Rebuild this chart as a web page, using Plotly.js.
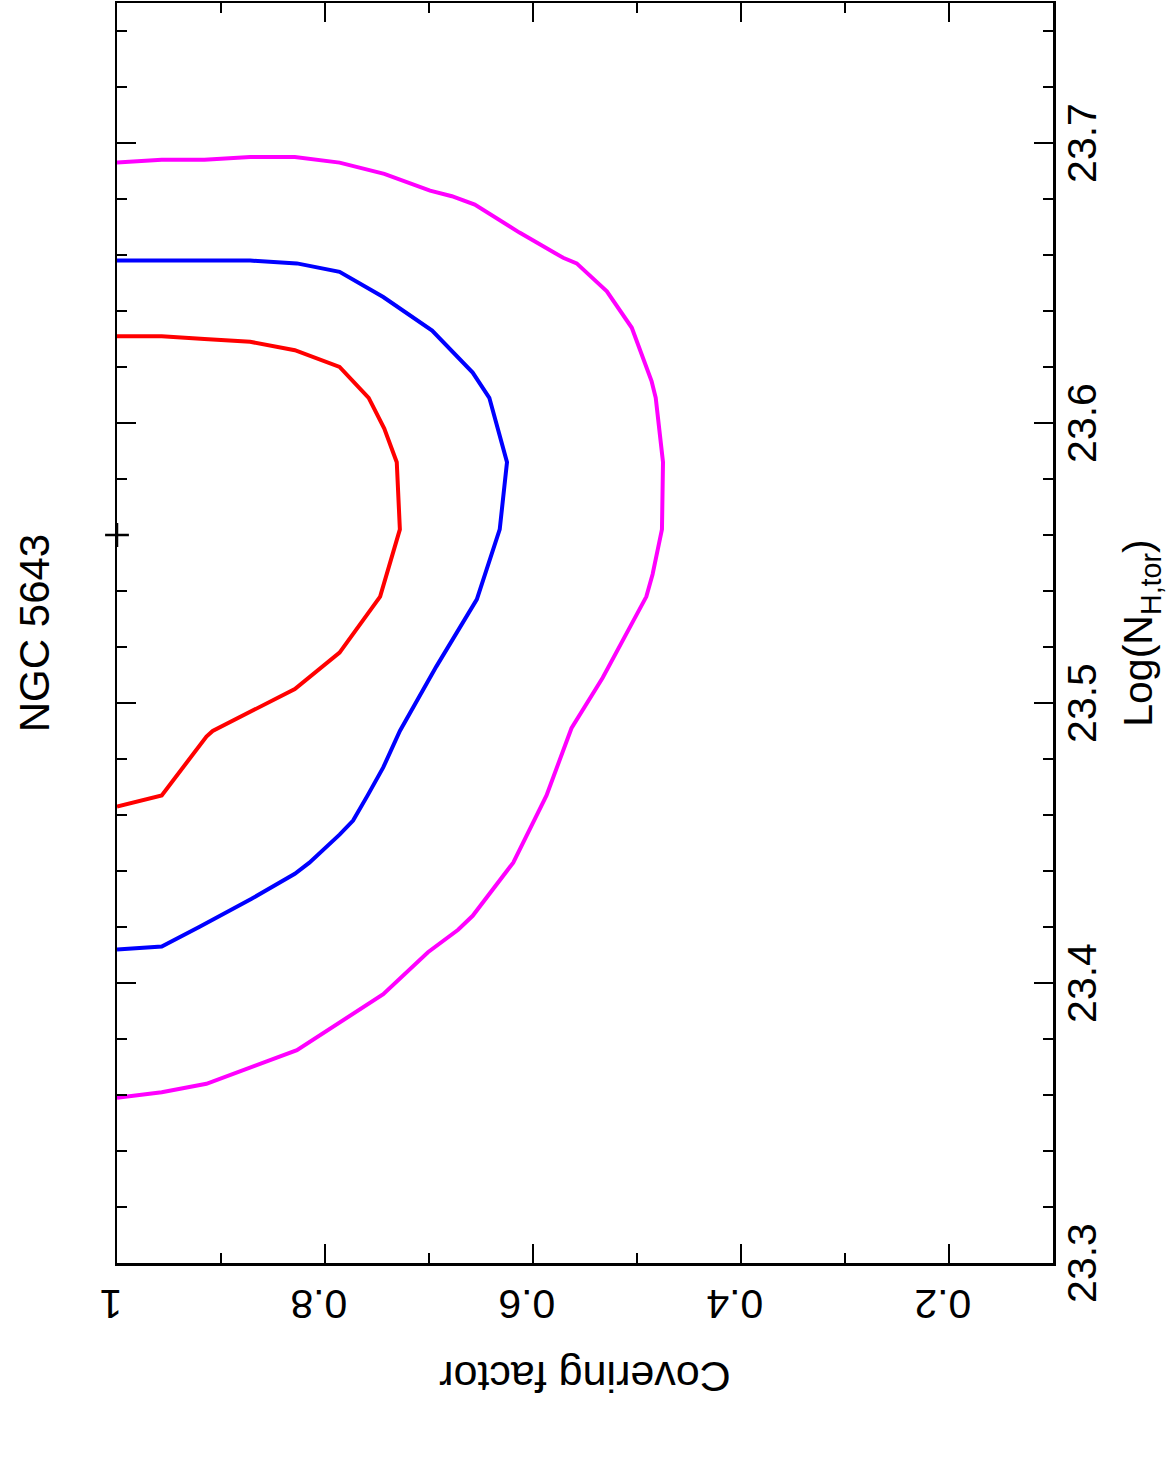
<!DOCTYPE html>
<html>
<head>
<meta charset="utf-8">
<script src="https://cdn.plot.ly/plotly-3.0.1.min.js"></script>
<style>
  html, body { margin: 0; padding: 0; background: #ffffff; }
  #sheet { position: absolute; left: 0; top: 0; width: 1167px; height: 1459px; overflow: hidden; background: #ffffff; }
  /* The figure is laid out landscape and turned a quarter turn anticlockwise onto the portrait page */
  #chart { position: absolute; left: 0; top: 0; width: 1459px; height: 1167px;
           transform-origin: 0 0; transform: translate(0px, 1459px) rotate(-90deg); }
</style>
</head>
<body>
<div id="sheet"><div id="chart"></div></div>
<script>
// Confidence contours of torus column density vs covering factor, NGC 5643
const nhRed = [23.631, 23.631, 23.630, 23.629, 23.626, 23.620, 23.609, 23.598, 23.586, 23.562,
               23.538, 23.518, 23.505, 23.497, 23.490, 23.488, 23.467, 23.463];
const cfRed = [1.000, 0.957, 0.916, 0.872, 0.829, 0.786, 0.758, 0.743, 0.731, 0.728,
               0.747, 0.786, 0.829, 0.872, 0.908, 0.914, 0.957, 1.000];

const nhBlue = [23.658, 23.658, 23.658, 23.658, 23.657, 23.654, 23.645, 23.633, 23.618, 23.609,
                23.586, 23.562, 23.537, 23.513, 23.490, 23.477, 23.467, 23.458, 23.453, 23.443,
                23.439, 23.430, 23.420, 23.413, 23.412];
const cfBlue = [1.000, 0.957, 0.916, 0.872, 0.827, 0.786, 0.744, 0.697, 0.658, 0.642,
                0.625, 0.632, 0.654, 0.693, 0.728, 0.744, 0.759, 0.773, 0.786, 0.815,
                0.829, 0.871, 0.921, 0.957, 1.000];

const nhMagenta = [23.693, 23.694, 23.694, 23.695, 23.695, 23.693, 23.689, 23.683, 23.681, 23.678,
                   23.668, 23.659, 23.657, 23.647, 23.634, 23.615, 23.609, 23.586, 23.562, 23.546,
                   23.538, 23.509, 23.491, 23.467, 23.443, 23.424, 23.419, 23.411, 23.396, 23.386,
                   23.376, 23.372, 23.364, 23.361, 23.359];
const cfMagenta = [1.000, 0.957, 0.916, 0.872, 0.829, 0.786, 0.743, 0.699, 0.678, 0.656,
                   0.613, 0.571, 0.558, 0.529, 0.505, 0.486, 0.482, 0.475, 0.476, 0.485,
                   0.491, 0.533, 0.563, 0.587, 0.619, 0.658, 0.672, 0.701, 0.744, 0.786,
                   0.827, 0.856, 0.914, 0.957, 1.000];

// Best-fit point
const nhBest = [23.560];
const cfBest = [1.000];

const nhRange = [23.3, 23.75];
const cfRange = [0.1, 1.0];

const FONT = 'Liberation Sans, Arial, Helvetica, sans-serif';

function contour(nh, cf, color) {
  return {
    type: 'scatter', mode: 'lines', x: nh, y: cf,
    line: { color: color, width: 4 },
    hoverinfo: 'skip', cliponaxis: true
  };
}

const traces = [
  contour(nhMagenta, cfMagenta, '#ff00ff'),
  contour(nhBlue, cfBlue, '#0000ff'),
  contour(nhRed, cfRed, '#ff0000'),
  {
    type: 'scatter', mode: 'markers', x: nhBest, y: cfBest,
    marker: { symbol: 'cross-thin', size: 17, color: '#000000',
              line: { color: '#000000', width: 2.5 } },
    cliponaxis: false, hoverinfo: 'skip'
  }
];

const axisCommon = {
  showgrid: false, zeroline: false,
  showline: true, linecolor: '#000000', linewidth: 2.5,
  mirror: 'ticks', ticks: 'inside', ticklen: 19, tickwidth: 2.5, tickcolor: '#000000',
  tickfont: { family: FONT, size: 41, color: '#000000' },
  automargin: false
};

const layout = {
  width: 1459, height: 1167,
  margin: { l: 196, r: 3, t: 117, b: 114, pad: 0 },
  paper_bgcolor: '#ffffff', plot_bgcolor: '#ffffff',
  showlegend: false,
  font: { family: FONT, color: '#000000' },
  title: {
    text: 'NGC 5643',
    font: { family: FONT, size: 42, color: '#000000' },
    x: 0.5, xref: 'paper', xanchor: 'center',
    y: 1 - 34 / 1167, yref: 'container', yanchor: 'middle'
  },
  xaxis: Object.assign({}, axisCommon, {
    range: nhRange, tick0: 23.3, dtick: 0.1, tickformat: '.1f',
    ticklabelstandoff: -9,
    minor: { dtick: 0.02, tick0: 23.3, ticks: 'inside', ticklen: 10, tickwidth: 2.5,
             tickcolor: '#000000', showgrid: false },
    title: { text: 'Log(N<sub>H,tor</sub>)', font: { family: FONT, size: 41, color: '#000000' }, standoff: 20 }
  }),
  yaxis: Object.assign({}, axisCommon, {
    range: cfRange, tick0: 0.2, dtick: 0.2, tickangle: -90,
    ticklabelstandoff: 8,
    minor: { dtick: 0.1, tick0: 0.1, ticks: 'inside', ticklen: 10, tickwidth: 2.5,
             tickcolor: '#000000', showgrid: false },
    title: { text: 'Covering factor', font: { family: FONT, size: 43, color: '#000000' }, standoff: 21 }
  })
};

Plotly.newPlot('chart', traces, layout, { staticPlot: true, displayModeBar: false, responsive: false });
</script>
</body>
</html>
